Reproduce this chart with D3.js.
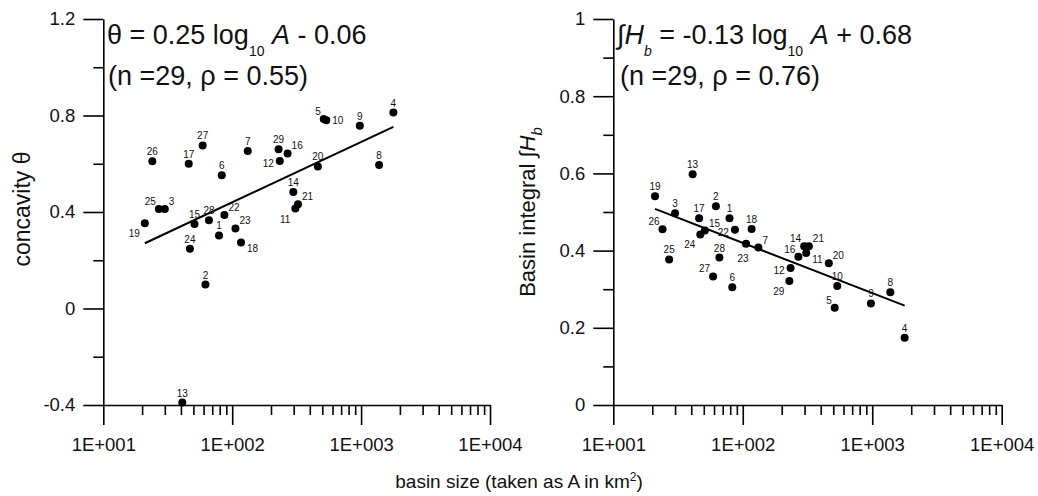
<!DOCTYPE html>
<html>
<head>
<meta charset="utf-8">
<script src="https://cdn.jsdelivr.net/npm/d3@7"></script>
<style>
  body { margin: 0; background: #fff; }
  svg { font-family: "Liberation Sans", Arial, sans-serif; }
  .axis path, .axis line { stroke: #000; stroke-width: 1.6px; }
  .axis text { font-size: 18.5px; fill: #111; }
</style>
</head>
<body>
<div id="chart"></div>
<script>
/* concavity and basin integral vs basin size */

// basin numbers, areas (km2) and the two indices
var basinIds = d3.range(1, 30);
var basinArea = [79, 62, 30, 1780, 513, 83, 132, 1380, 977, 537, 309, 234, 41, 298, 51,
                 269, 46, 117, 21, 462, 324, 87, 106, 47, 27, 24, 59, 66, 229];
var concavity = [0.303, 0.099, 0.412, 0.812, 0.785, 0.552, 0.653, 0.595, 0.758, 0.780,
                 0.414, 0.611, -0.390, 0.483, 0.350, 0.643, 0.600, 0.274, 0.353, 0.589,
                 0.432, 0.388, 0.332, 0.248, 0.412, 0.610, 0.676, 0.366, 0.660];
var basinIntegral = [0.484, 0.515, 0.497, 0.174, 0.252, 0.305, 0.408, 0.292, 0.263, 0.308,
                     0.394, 0.355, 0.598, 0.411, 0.452, 0.384, 0.484, 0.456, 0.541, 0.367,
                     0.411, 0.454, 0.418, 0.442, 0.377, 0.455, 0.333, 0.382, 0.321];

// regression fits: [slope, intercept] on log10 A
var concavityFit = [0.25, -0.06];
var integralFit = [-0.13, 0.68];

// axis ticks
var xMajor = [10, 100, 1000, 10000];
var concavityMajor = [-0.4, 0, 0.4, 0.8, 1.2];
var concavityMinor = [-0.2, 0.2, 0.6, 1.0];
var integralMajor = [0, 0.2, 0.4, 0.6, 0.8, 1];
var integralMinor = [0.1, 0.3, 0.5, 0.7, 0.9];

// which side of the dot each number sits on
var concavitySide = ["n","n","ne","n","nw","n","n","n","n","e","sw","w","n","n","n",
                     "ne","n","se","sw","n","ne","ne","ne","n","nw","n","n","n","n"];
var integralSide = ["n","n","n","n","nw","n","ne","n","n","n","se","w","n","nw","ne",
                    "nw","n","n","n","ne","ne","w","s","sw","n","nw","nw","n","sw"];

var labelOffset = {
    n:  {dx: 0,  dy: -6, anchor: "middle"},
    s:  {dx: -3, dy: 18, anchor: "middle"},
    ne: {dx: 4,  dy: -4, anchor: "start"},
    e:  {dx: 6,  dy: 4,  anchor: "start"},
    se: {dx: 6,  dy: 10, anchor: "start"},
    sw: {dx: -5, dy: 14, anchor: "end"},
    w:  {dx: -6, dy: 6,  anchor: "end"},
    nw: {dx: -3, dy: -4, anchor: "end"}
};

var width = 1038,
    height = 496;

var svg = d3.select("#chart").append("svg")
    .attr("width", width)
    .attr("height", height);

var xMinor = [];
xMajor.slice(0, -1).forEach(function(d) {
    for (var k = 2; k <= 9; k++) xMinor.push(d * k);
});

var expFormat = function(d) {
    return "1E+" + String(Math.round(Math.log10(d))).padStart(3, "0");
};
var numFormat = function(d) { return String(+d.toFixed(1)); };

function drawPanel(opts) {
    var x = d3.scaleLog().domain([10, 10000]).range([opts.left, opts.right]);
    var y = d3.scaleLinear().domain(opts.yDomain).range([405, 19]);

    var g = svg.append("g");

    // minor ticks first
    g.append("g").attr("class", "axis")
        .attr("transform", "translate(0,405)")
        .call(d3.axisBottom(x).tickValues(xMinor).tickSize(10).tickFormat(""))
        .select(".domain").remove();
    g.append("g").attr("class", "axis")
        .attr("transform", "translate(" + opts.left + ",0)")
        .call(d3.axisLeft(y).tickValues(opts.yMinor).tickSize(10).tickFormat(""))
        .select(".domain").remove();

    g.append("g").attr("class", "axis")
        .attr("transform", "translate(0,405)")
        .call(d3.axisBottom(x).tickValues(xMajor).tickSize(20).tickSizeOuter(0)
            .tickPadding(13).tickFormat(expFormat));
    g.append("g").attr("class", "axis")
        .attr("transform", "translate(" + opts.left + ",0)")
        .call(d3.axisLeft(y).tickValues(opts.yMajor).tickSize(20).tickSizeOuter(0)
            .tickPadding(8).tickFormat(numFormat));

    // regression line
    var ext = d3.extent(basinArea);
    g.append("path")
        .datum(ext)
        .attr("fill", "none")
        .attr("stroke", "#000")
        .attr("stroke-width", 2)
        .attr("d", d3.line()
            .x(function(d) { return x(d); })
            .y(function(d) { return y(opts.fit[0] * Math.log10(d) + opts.fit[1]); }));

    // dots
    g.selectAll("circle.dot")
        .data(basinIds)
        .enter().append("circle")
        .attr("class", "dot")
        .attr("cx", function(d, i) { return x(basinArea[i]); })
        .attr("cy", function(d, i) { return y(opts.values[i]); })
        .attr("r", 4)
        .attr("fill", "#000");

    // basin numbers
    g.selectAll("text.lab")
        .data(basinIds)
        .enter().append("text")
        .attr("class", "lab")
        .attr("x", function(d, i) { return x(basinArea[i]) + labelOffset[opts.sides[i]].dx; })
        .attr("y", function(d, i) { return y(opts.values[i]) + labelOffset[opts.sides[i]].dy; })
        .attr("text-anchor", function(d, i) { return labelOffset[opts.sides[i]].anchor; })
        .style("font-size", "10px")
        .attr("fill", "#111")
        .text(function(d) { return d; });

    return g;
}

var left = drawPanel({left: 103.3, right: 490, yDomain: [-0.4, 1.2],
    yMajor: concavityMajor, yMinor: concavityMinor,
    values: concavity, fit: concavityFit, sides: concavitySide});

var right = drawPanel({left: 613.3, right: 1001.7, yDomain: [0, 1],
    yMajor: integralMajor, yMinor: integralMinor,
    values: basinIntegral, fit: integralFit, sides: integralSide});

// equations
function sub(t, s, italic) {
    t.append("tspan").attr("dy", 12).style("font-size", "14px")
        .style("font-style", italic ? "italic" : null).text(s);
}

var eq1 = left.append("text").attr("x", 107).attr("y", 44).style("font-size", "27px").attr("fill", "#111");
eq1.append("tspan").text("\u03b8 = 0.25 log");
sub(eq1, "10");
eq1.append("tspan").attr("dy", -12).text(" ");
eq1.append("tspan").style("font-style", "italic").text("A");
eq1.append("tspan").text(" - 0.06");

left.append("text").attr("x", 108).attr("y", 85).style("font-size", "27px").attr("fill", "#111")
    .text("(n =29, \u03c1 = 0.55)");

var eq2 = right.append("text").attr("x", 617).attr("y", 44).style("font-size", "27px").attr("fill", "#111");
eq2.append("tspan").text("\u222b");
eq2.append("tspan").style("font-style", "italic").text("H");
sub(eq2, "b", true);
eq2.append("tspan").attr("dy", -12).text(" = -0.13 log");
sub(eq2, "10");
eq2.append("tspan").attr("dy", -12).text(" ");
eq2.append("tspan").style("font-style", "italic").text("A");
eq2.append("tspan").text(" + 0.68");

right.append("text").attr("x", 620).attr("y", 85).style("font-size", "27px").attr("fill", "#111")
    .text("(n =29, \u03c1 = 0.76)");

// axis titles
svg.append("text")
    .attr("transform", "translate(30,209) rotate(-90)")
    .attr("text-anchor", "middle")
    .style("font-size", "23px").attr("fill", "#111")
    .text("concavity \u03b8");

var yt2 = svg.append("text")
    .attr("transform", "translate(535,212) rotate(-90)")
    .attr("text-anchor", "middle")
    .style("font-size", "22px").attr("fill", "#111");
yt2.append("tspan").text("Basin integral \u222b");
yt2.append("tspan").style("font-style", "italic").text("H");
yt2.append("tspan").attr("dy", 7).style("font-size", "15px").style("font-style", "italic").text("b");

var xt = svg.append("text")
    .attr("x", 519).attr("y", 488)
    .attr("text-anchor", "middle")
    .style("font-size", "19px").attr("fill", "#111");
xt.append("tspan").text("basin size (taken as A in km");
xt.append("tspan").attr("dy", -7).style("font-size", "12px").text("2");
xt.append("tspan").attr("dy", 7).text(")");
</script>
</body>
</html>
